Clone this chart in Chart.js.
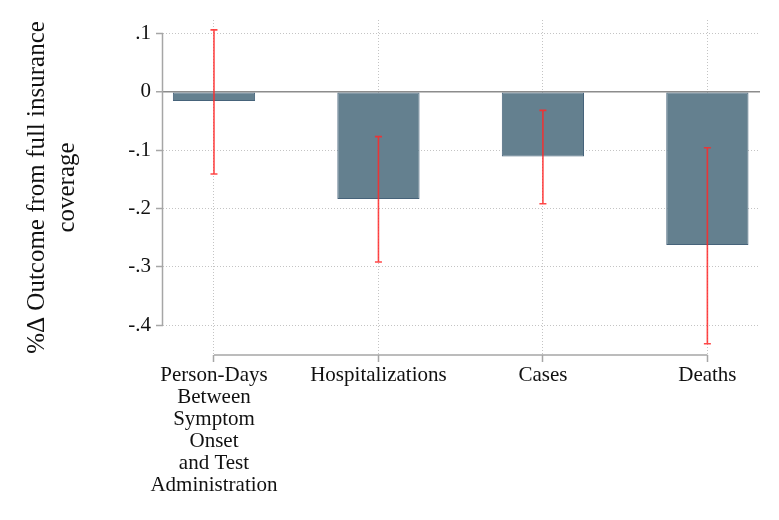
<!DOCTYPE html>
<html lang="en">
<head>
    <meta charset="UTF-8">
    <title>Outcome from full insurance coverage</title>
    <script src="https://cdn.jsdelivr.net/npm/chart.js"></script>
    <style>
        html, body {
            margin: 0;
            padding: 0;
            background: #ffffff;
        }
        .chart-container {
            width: 779px;
            height: 520px;
        }
    </style>
</head>
<body>

<div class="chart-container">
    <canvas id="effectChart"></canvas>
</div>

<script>
    // Data
    const categories = [
        ['Person-Days', 'Between', 'Symptom', 'Onset', 'and Test', 'Administration'],
        ['Hospitalizations'],
        ['Cases'],
        ['Deaths']
    ];
    const positions = [1, 2, 3, 4];
    const estimates = [-0.016, -0.184, -0.111, -0.263];
    const ciLow = [-0.141, -0.292, -0.192, -0.432];
    const ciHigh = [0.106, -0.077, -0.032, -0.096];
    const yTicks = [0.1, 0, -0.1, -0.2, -0.3, -0.4];
    const yTickLabels = ['.1', '0', '-.1', '-.2', '-.3', '-.4'];

    const serif = "'Liberation Serif', 'Times New Roman', serif";

    // Stata-like axis lines that only span the tick range, plus the CI whiskers
    const stataExtras = {
        id: 'stataExtras',
        afterDatasetsDraw(chart) {
            const { ctx, scales: { x, y } } = chart;
            ctx.save();

            // error bars
            ctx.strokeStyle = 'rgba(255, 40, 40, 0.85)';
            ctx.lineWidth = 1.6;
            positions.forEach((p, i) => {
                const px = x.getPixelForValue(p);
                const top = y.getPixelForValue(ciHigh[i]);
                const bot = y.getPixelForValue(ciLow[i]);
                ctx.beginPath();
                ctx.moveTo(px, top);
                ctx.lineTo(px, bot);
                ctx.moveTo(px - 3.5, top);
                ctx.lineTo(px + 3.5, top);
                ctx.moveTo(px - 3.5, bot);
                ctx.lineTo(px + 3.5, bot);
                ctx.stroke();
            });

            // axis lines
            ctx.strokeStyle = '#a6a6a6';
            ctx.lineWidth = 1.5;
            ctx.beginPath();
            const ax = x.left - 0.5;
            ctx.moveTo(ax, y.getPixelForValue(yTicks[0]));
            ctx.lineTo(ax, y.getPixelForValue(yTicks[yTicks.length - 1]));
            const ay = y.bottom;
            ctx.moveTo(x.getPixelForValue(positions[0]), ay);
            ctx.lineTo(x.getPixelForValue(positions[positions.length - 1]), ay);
            ctx.stroke();
            ctx.restore();
        }
    };

    const ctx = document.getElementById('effectChart').getContext('2d');
    new Chart(ctx, {
        type: 'bar',
        data: {
            datasets: [{
                data: positions.map((p, i) => ({ x: p, y: estimates[i] })),
                backgroundColor: '#64808f',
                borderColor: '#46637a',
                borderWidth: 1,
                borderSkipped: false,
                categoryPercentage: 1,
                barPercentage: 0.5
            }]
        },
        options: {
            responsive: true,
            maintainAspectRatio: false,
            animation: false,
            layout: {
                padding: { top: 20, right: 19, left: 0, bottom: 0 }
            },
            plugins: {
                legend: { display: false },
                tooltip: { enabled: false }
            },
            scales: {
                x: {
                    type: 'linear',
                    offset: false,
                    min: 0.69,
                    max: 4.32,
                    afterBuildTicks: scale => {
                        scale.ticks = positions.map(v => ({ value: v }));
                    },
                    afterFit: scale => { scale.height = 165; },
                    ticks: {
                        autoSkip: false,
                        maxRotation: 0,
                        padding: 3,
                        color: '#111',
                        font: { family: serif, size: 21, lineHeight: 1.04 },
                        callback: (value) => categories[positions.indexOf(value)]
                    },
                    grid: {
                        offset: false,
                        color: '#c4c4c4',
                        tickColor: '#a6a6a6',
                        tickLength: 7,
                        tickWidth: 1.5
                    },
                    border: { display: false, dash: [1, 2] }
                },
                y: {
                    min: -0.4514,
                    max: 0.1229,
                    afterBuildTicks: scale => {
                        scale.ticks = yTicks.map(v => ({ value: v }));
                    },
                    afterFit: scale => { scale.width = 163; },
                    ticks: {
                        padding: 5,
                        color: '#111',
                        font: { family: serif, size: 21 },
                        callback: (value) => yTickLabels[yTicks.indexOf(value)]
                    },
                    grid: {
                        color: c => (c.tick && c.tick.value === 0) ? '#8c8c8c' : '#c4c4c4',
                        lineWidth: c => (c.tick && c.tick.value === 0) ? 1.5 : 1,
                        tickColor: '#a6a6a6',
                        tickLength: 7,
                        tickWidth: 1.5
                    },
                    border: {
                        display: false,
                        dash: c => (c.tick && c.tick.value === 0) ? [] : [1, 2]
                    },
                    title: {
                        display: true,
                        text: ['%\u0394 Outcome from full insurance', 'coverage'],
                        color: '#111',
                        font: { family: serif, size: 25, lineHeight: 1.2 },
                        padding: { top: 22, bottom: 0 }
                    }
                }
            }
        },
        plugins: [stataExtras]
    });
</script>

</body>
</html>
